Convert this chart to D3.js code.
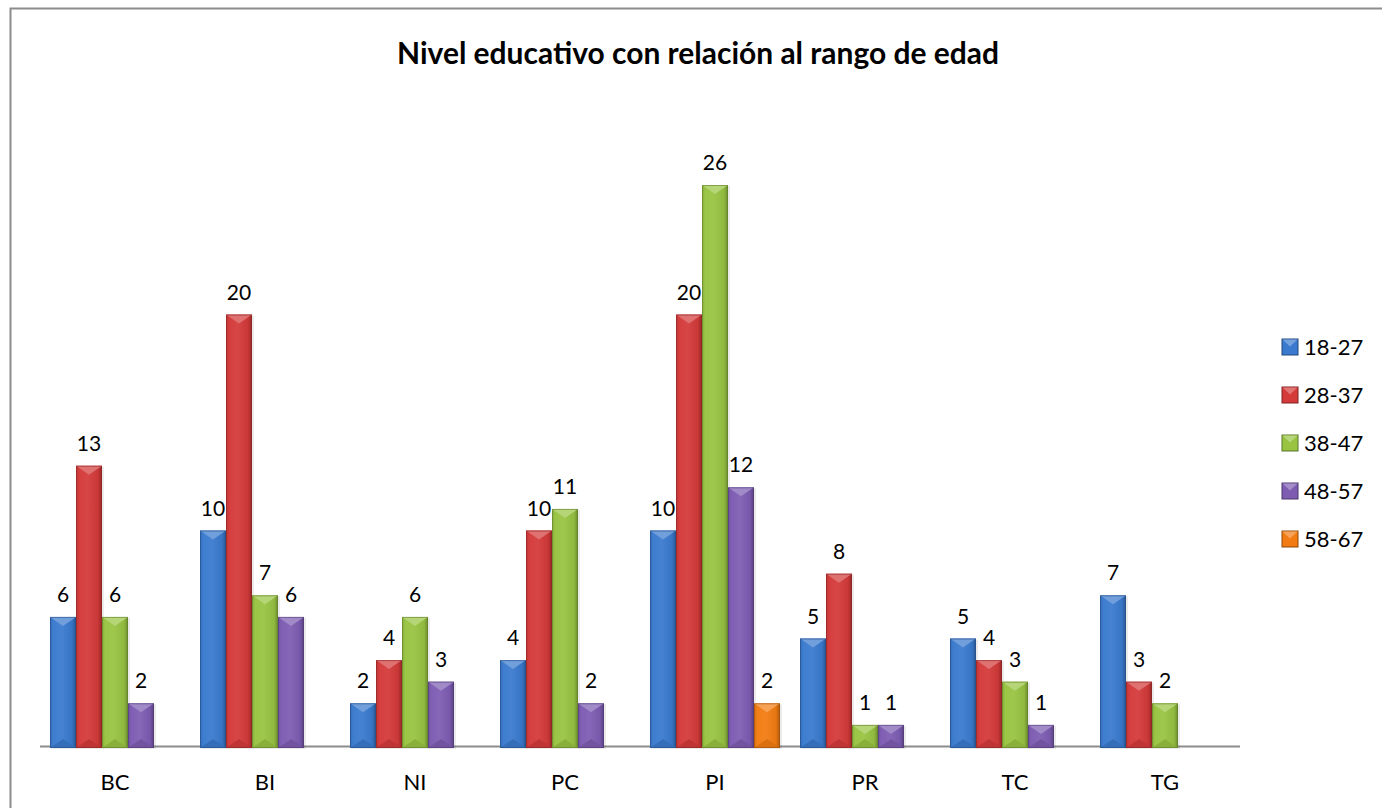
<!DOCTYPE html>
<html>
<head>
<meta charset="utf-8">
<script src="https://cdn.jsdelivr.net/npm/d3@7"></script>
<style>
  html, body { margin: 0; padding: 0; background: #fff; }
  svg { display: block; }
  text { font-family: Lato, "Open Sans", "Liberation Sans", sans-serif; fill: #000; }
</style>
</head>
<body>
<svg id="chart" width="1382" height="808"></svg>
<script>
// Education level by age range
const categories = ["BC", "BI", "NI", "PC", "PI", "PR", "TC", "TG"];
const seriesNames = ["18-27", "28-37", "38-47", "48-57", "58-67"];
const s18_27 = [6, 10, 2, 4, 10, 5, 5, 7];
const s28_37 = [13, 20, 4, 10, 20, 8, 4, 3];
const s38_47 = [6, 7, 6, 11, 26, 1, 3, 2];
const s48_57 = [2, 6, 3, 2, 12, 1, 1, null];
const s58_67 = [null, null, null, null, 2, null, null, null];
const seriesValues = [s18_27, s28_37, s38_47, s48_57, s58_67];
const seriesColors = ["#3a7ace", "#d43a3a", "#98c442", "#7d5cb2", "#f27c12"];
const chartTitle = "Nivel educativo con relación al rango de edad";

const svg = d3.select("#chart");
const W = 1382, H = 808;
const baseY = 746.5;

// outer frame (right/bottom edges fall outside the view)
svg.append("rect")
  .attr("x", 10.5).attr("y", 8.5)
  .attr("width", W + 20).attr("height", H + 20)
  .attr("fill", "#fff").attr("stroke", "#8c8c8c").attr("stroke-width", 2);

const x = d3.scaleBand().domain(categories).range([40, 1240])
  .paddingInner(20 / 150).paddingOuter(10 / 150);
const xs = d3.scaleBand().domain(seriesNames).range([0, x.bandwidth()]);
const y = d3.scaleLinear().domain([0, 26]).range([baseY, 185]);

// colour helpers for the bevelled faces
function shade(c, k) { return d3.interpolateRgb(c, k > 0 ? "#fff" : "#000")(Math.abs(k)); }

const defs = svg.append("defs");
seriesColors.forEach((c, i) => {
  const g = defs.append("linearGradient").attr("id", "body" + i)
    .attr("x1", 0).attr("x2", 1).attr("y1", 0).attr("y2", 0);
  g.append("stop").attr("offset", 0).attr("stop-color", shade(c, -0.12));
  g.append("stop").attr("offset", 0.12).attr("stop-color", shade(c, 0.02));
  g.append("stop").attr("offset", 0.45).attr("stop-color", shade(c, 0.06));
  g.append("stop").attr("offset", 0.85).attr("stop-color", shade(c, -0.05));
  g.append("stop").attr("offset", 1).attr("stop-color", shade(c, -0.3));
});

// baseline
svg.append("line")
  .attr("x1", 40).attr("x2", 1240).attr("y1", baseY).attr("y2", baseY)
  .attr("stroke", "#8c8c8c").attr("stroke-width", 2);

// flatten to bar records
const bars = [];
seriesNames.forEach((s, si) => {
  categories.forEach((c, ci) => {
    const v = seriesValues[si][ci];
    if (v != null) bars.push({ s, si, c, v });
  });
});

const bevel = 9;
const gBars = svg.append("g");
bars.forEach(d => {
  const x0 = x(d.c) + xs(d.s), w = xs.bandwidth();
  const y0 = y(d.v), y1 = baseY + 1.5;
  const cx = x0 + w / 2;
  const b = Math.min(bevel, (y1 - y0) / 2);
  const col = seriesColors[d.si];
  const g = gBars.append("g");
  // soft shadow on the right
  g.append("rect").attr("x", x0 + 1).attr("y", y0 + 1).attr("width", w + 1).attr("height", y1 - y0)
    .attr("fill", "#000").attr("opacity", 0.08);
  g.append("rect").attr("x", x0).attr("y", y0).attr("width", w).attr("height", y1 - y0)
    .attr("fill", `url(#body${d.si})`);
  // top facet
  g.append("path")
    .attr("d", `M${x0},${y0}L${x0 + w},${y0}L${cx},${y0 + b}Z`)
    .attr("fill", shade(col, 0.28));
  // bottom facet
  g.append("path")
    .attr("d", `M${x0},${y1}L${x0 + w},${y1}L${cx},${y1 - b}Z`)
    .attr("fill", shade(col, -0.1));
  g.append("rect").attr("x", x0 + 0.5).attr("y", y0 + 0.5).attr("width", w - 1).attr("height", y1 - y0 - 1)
    .attr("fill", "none").attr("stroke", shade(col, -0.35)).attr("stroke-width", 1).attr("opacity", 0.6);
});

// value labels
svg.append("g").selectAll("text").data(bars).join("text")
  .attr("x", d => x(d.c) + xs(d.s) + xs.bandwidth() / 2)
  .attr("y", d => y(d.v) - 15)
  .attr("text-anchor", "middle")
  .attr("font-size", 21)
  .text(d => d.v);

// category labels
svg.append("g").selectAll("text").data(categories).join("text")
  .attr("x", d => x(d) + x.bandwidth() / 2)
  .attr("y", 790)
  .attr("text-anchor", "middle")
  .attr("font-size", 22)
  .text(d => d);

// title
const t = svg.append("text")
  .attr("x", 698).attr("y", 64)
  .attr("text-anchor", "middle")
  .attr("font-size", 22).attr("font-weight", "bold")
  .text(chartTitle);
const tl = t.node().getComputedTextLength();
t.attr("font-size", 22 * 602 / tl);

// legend
const leg = svg.append("g").attr("transform", "translate(1282,339)");
seriesNames.forEach((s, i) => {
  const gy = i * 48;
  const col = seriesColors[i];
  const g = leg.append("g").attr("transform", `translate(0,${gy})`);
  g.append("rect").attr("width", 16).attr("height", 16).attr("fill", col)
    .attr("stroke", shade(col, -0.4)).attr("stroke-width", 1);
  g.append("path").attr("d", "M0.5,0.5L15.5,0.5L8,7.5Z").attr("fill", shade(col, 0.3));
  g.append("text").attr("x", 22).attr("y", 15.5).attr("font-size", 22).text(s);
});
</script>
</body>
</html>
